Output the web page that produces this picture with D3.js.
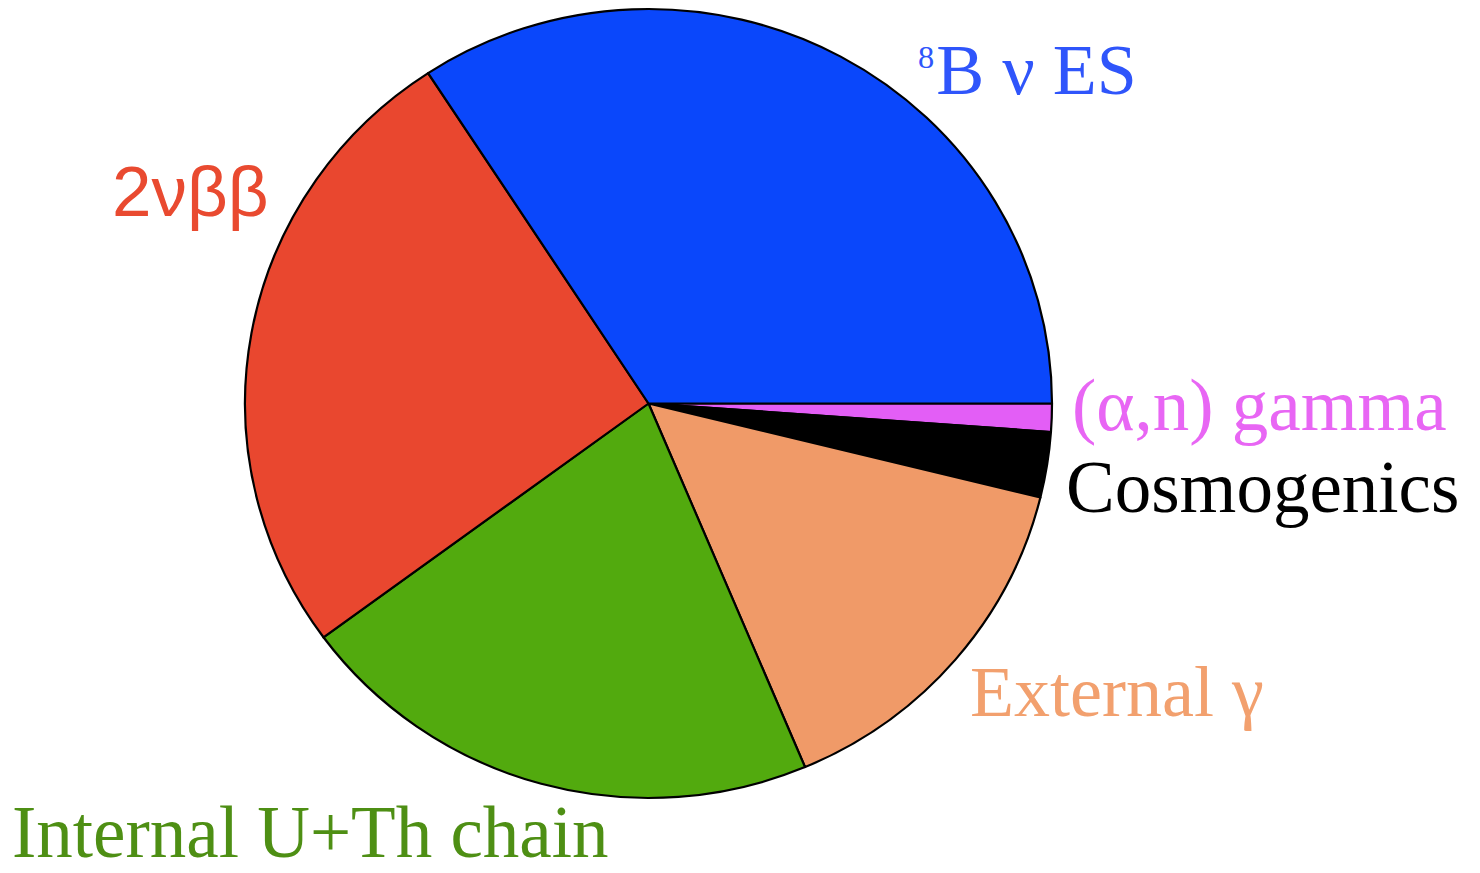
<!DOCTYPE html>
<html>
<head>
<meta charset="utf-8">
<script src="https://cdn.jsdelivr.net/npm/d3@7/dist/d3.min.js"></script>
<style>
  html, body { margin: 0; padding: 0; background: #fff; }
  svg { display: block; }
</style>
</head>
<body>
<svg id="chart" width="1480" height="873"></svg>
<script>
// Data (clockwise from 3 o'clock)
const categories = ["(α,n) gamma", "Cosmogenics", "External γ", "Internal U+Th chain", "2νββ", "8B ν ES"];
const values = [1.15, 2.68, 14.83, 21.25, 25.9, 34.2];
const sliceColors = ["#e35ef6", "#000000", "#f09a68", "#52aa0e", "#e9472f", "#0a47fb"];
const labelColors = ["#e866f4", "#000000", "#f2a06e", "#4e8f14", "#e94a30", "#2f55fb"];

// Layout
const W = 1480, H = 873;
const cx = 648.5, cy = 403.5, rx = 403.5, ry = 394.5;
const R = 400;
const labelPos = [
  { x: 1072, y: 430, size: 73, family: "Liberation Serif" },
  { x: 1066, y: 512, size: 73, family: "Liberation Serif" },
  { x: 970,  y: 716, size: 72, family: "Liberation Serif" },
  { x: 12,   y: 857, size: 73, family: "Liberation Serif" },
  { x: 112,  y: 216, size: 71, family: "Liberation Sans" },
  { x: 918,  y: 94,  size: 72, family: "Liberation Serif" }
];

const svg = d3.select("#chart");
const data = categories.map((c, i) => ({ name: c, value: values[i], i }));

const pie = d3.pie()
  .sort(null)
  .value(d => d.value)
  .startAngle(Math.PI / 2)
  .endAngle(Math.PI / 2 + 2 * Math.PI);

const arc = d3.arc().innerRadius(0).outerRadius(R);

const g = svg.append("g")
  .attr("transform", `translate(${cx},${cy}) scale(${rx / R},${ry / R})`);

g.selectAll("path")
  .data(pie(data))
  .join("path")
  .attr("d", arc)
  .attr("fill", d => sliceColors[d.data.i])
  .attr("stroke", "#000")
  .attr("stroke-width", 2.2)
  .attr("stroke-linejoin", "round");

// Labels
const labels = svg.append("g");
data.forEach((d, i) => {
  const p = labelPos[i];
  const t = labels.append("text")
    .attr("x", p.x)
    .attr("y", p.y)
    .attr("fill", labelColors[i])
    .attr("font-family", p.family)
    .attr("font-size", p.size);
  if (d.name.startsWith("8B")) {
    t.append("tspan").attr("font-size", p.size * 0.45).attr("dy", -p.size * 0.36).text("8");
    t.append("tspan").attr("dy", p.size * 0.36).attr("dx", 2).text("B ν ES");
  } else {
    t.text(d.name);
  }
});
</script>
</body>
</html>
